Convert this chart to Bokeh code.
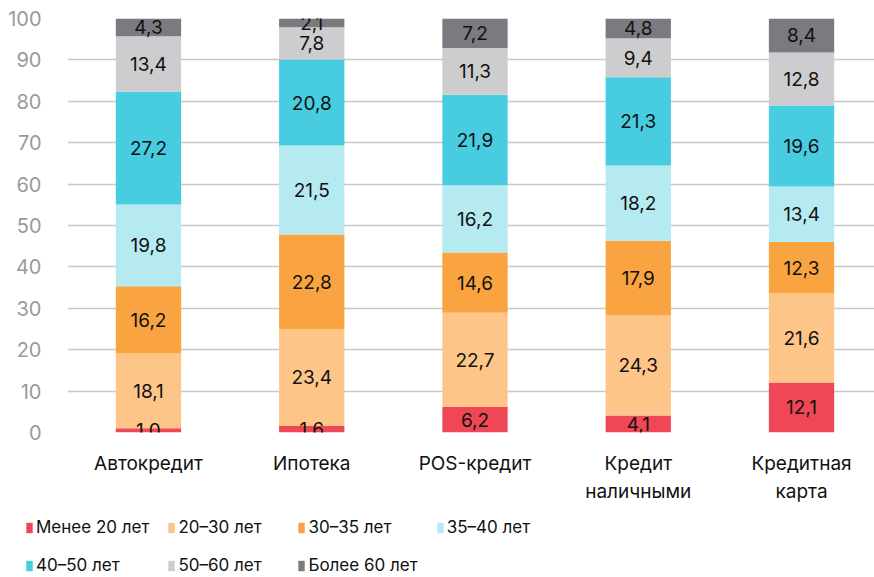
from bokeh.plotting import figure
from bokeh.layouts import column, row
from bokeh.models import (ColumnDataSource, Range1d, FixedTicker, Legend, LegendItem)
from bokeh.core.properties import value
from bokeh.embed import file_html
from bokeh.resources import INLINE

categories = ["Автокредит", "Ипотека", "POS-кредит", "Кредит\nналичными", "Кредитная\nкарта"]
groups = ["Менее 20 лет", "20–30 лет", "30–35 лет", "35–40 лет", "40–50 лет", "50–60 лет", "Более 60 лет"]
under20 = [1.0, 1.6, 6.2, 4.1, 12.1]
g20_30 = [18.1, 23.4, 22.7, 24.3, 21.6]
g30_35 = [16.2, 22.8, 14.6, 17.9, 12.3]
g35_40 = [19.8, 21.5, 16.2, 18.2, 13.4]
g40_50 = [27.2, 20.8, 21.9, 21.3, 19.6]
g50_60 = [13.4, 7.8, 11.3, 9.4, 12.8]
over60 = [4.3, 2.1, 7.2, 4.8, 8.4]
colors = ["#EF4756", "#FDC587", "#F9A440", "#B5EAF0", "#48CCE0", "#CDCDCF", "#7A7A80"]
yticks = list(range(0, 101, 10))

series = [under20, g20_30, g30_35, g35_40, g40_50, g50_60, over60]
keys = ["s%d" % i for i in range(len(series))]
xs = list(range(len(categories)))
data = {"x": xs}
for k, s in zip(keys, series):
    data[k] = s
src = ColumnDataSource(data)

FONT = "Inter"

p = figure(width=874, height=505, output_backend="svg", toolbar_location=None,
           x_range=Range1d(-0.496, 4.447), y_range=Range1d(0, 100),
           min_border_left=67, min_border_right=0, min_border_top=18, min_border_bottom=70)
p.outline_line_color = None
p.background_fill_color = "white"

p.vbar_stack(keys, x="x", width=0.4, color=colors, line_color=None, source=src)

# labels
lx, ly, lt = [], [], []
for i in xs:
    base = 0.0
    for s in series:
        v = s[i]
        lx.append(i)
        ly.append(base + v / 2.0)
        lt.append(("%.1f" % v).replace(".", ","))
        base += v
lsrc = ColumnDataSource(dict(x=lx, y=ly, t=lt))
p.text(x="x", y="y", text="t", source=lsrc, text_align="center", text_baseline="middle",
       text_font=value(FONT), text_font_size="19px", text_color="#111111")

p.xgrid.grid_line_color = None
p.ygrid.grid_line_color = "#C8C8C8"
p.ygrid.grid_line_width = 1.5
p.ygrid.ticker = FixedTicker(ticks=yticks)

p.yaxis.ticker = FixedTicker(ticks=yticks)
p.yaxis.axis_line_color = None
p.yaxis.major_tick_line_color = None
p.yaxis.minor_tick_line_color = None
p.yaxis.major_label_standoff = 20
p.yaxis.major_label_text_font = FONT
p.yaxis.major_label_text_font_size = "20px"
p.yaxis.major_label_text_color = "#9A9A9A"

p.xaxis.ticker = FixedTicker(ticks=xs)
p.xaxis.major_label_overrides = {i: c for i, c in zip(xs, categories)}
p.xaxis.axis_line_color = None
p.xaxis.major_tick_line_color = None
p.xaxis.minor_tick_line_color = None
p.xaxis.major_label_standoff = 13
p.xaxis.major_label_text_font = FONT
p.xaxis.major_label_text_font_size = "19px"
p.xaxis.major_label_text_color = "#111111"
p.xaxis.major_label_text_line_height = 1.22

# legend panel (zero-height swatch renderers, only used for the legend)
lp = figure(width=874, height=72, output_backend="svg", toolbar_location=None,
            x_axis_type=None, y_axis_type=None, x_range=Range1d(0, 1), y_range=Range1d(0, 1),
            min_border_left=0, min_border_right=0, min_border_top=0, min_border_bottom=0)
lp.outline_line_color = None
lp.xgrid.grid_line_color = None
lp.ygrid.grid_line_color = None
items = []
for g, c in zip(groups, colors):
    r = lp.vbar(x=[0], top=[0], bottom=[0], width=0.0, color=c, line_color=None)
    items.append(LegendItem(label=g, renderers=[r]))
legend = Legend(items=items, nrows=2, orientation="horizontal", location=(25, 2),
                glyph_width=8, glyph_height=13, label_standoff=3, label_width=101,
                label_height=20, spacing=18, padding=0, margin=0,
                label_text_font=FONT, label_text_font_size="17px", label_text_color="#111111",
                border_line_color=None, background_fill_alpha=0)
lp.add_layout(legend, "center")

layout = column(p, row(lp), spacing=0)
open("out.html", "w").write(file_html(layout, INLINE))
